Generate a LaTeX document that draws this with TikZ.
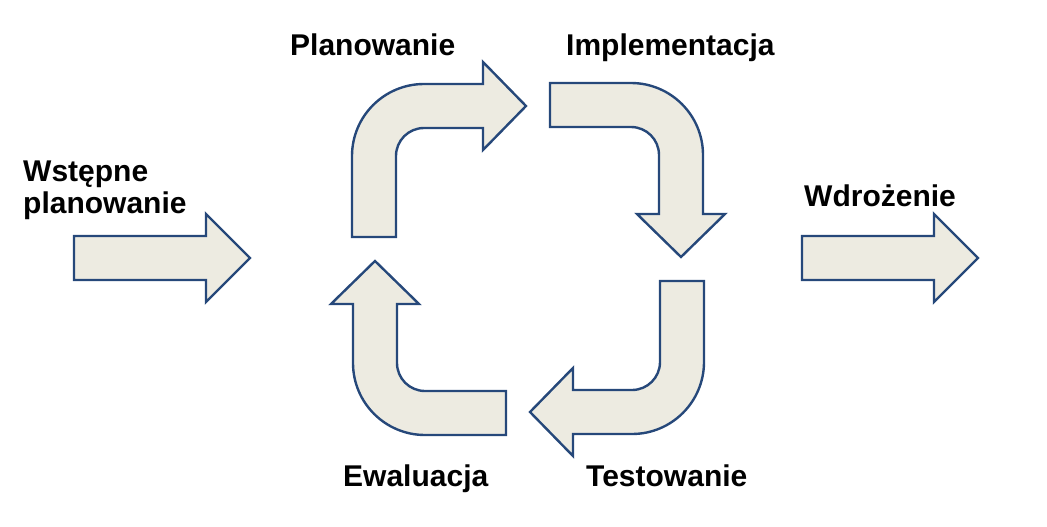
\documentclass[tikz,border=0pt]{standalone}
\usepackage{fontspec}
\setmainfont{Liberation Sans}

\definecolor{arrowfill}{RGB}{237,235,225}
\definecolor{arrowline}{RGB}{38,72,122}

\begin{document}
\begin{tikzpicture}[x=1pt, y=1pt, every node/.style={font=\bfseries\fontsize{30}{32}\selectfont, inner sep=0pt},
  blockarrow/.style={draw=arrowline, fill=arrowfill, line width=2.4pt, line join=miter}]
\useasboundingbox (0,0) rectangle (1047,-527);

% entry and exit arrows
\draw[blockarrow] (74,-236) -- (206,-236) -- (206,-214) -- (250,-258) -- (206,-302) -- (206,-280) -- (74,-280) -- cycle;
\draw[blockarrow] (802,-236) -- (934,-236) -- (934,-214) -- (978,-258) -- (934,-302) -- (934,-280) -- (802,-280) -- cycle;

% the cycle of four bent arrows
\foreach \ang in {0,-90,-180,-270}
  \draw[blockarrow, shift={(528,-259)}, rotate=\ang]
    (-176,22) -- (-176,103) arc[start angle=180, end angle=90, radius=72]
    -- (-45,175) -- (-45,197) -- (-2,153) -- (-45,109) -- (-45,131)
    -- (-104,131) arc[start angle=90, end angle=180, radius=28]
    -- (-132,22) -- cycle;

\node[anchor=base west, align=left] (wstep) at (23,-213) {Wstępne\\planowanie};
\node[anchor=base west] (plan) at (290,-56) {Planowanie};
\node[anchor=base west] (impl) at (566,-56) {Implementacja};
\node[anchor=base west] (test) at (586,-486) {Testowanie};
\node[anchor=base west] (ewal) at (343,-486) {Ewaluacja};
\node[anchor=base west] (wdro) at (804,-206) {Wdrożenie};
\end{tikzpicture}
\end{document}
